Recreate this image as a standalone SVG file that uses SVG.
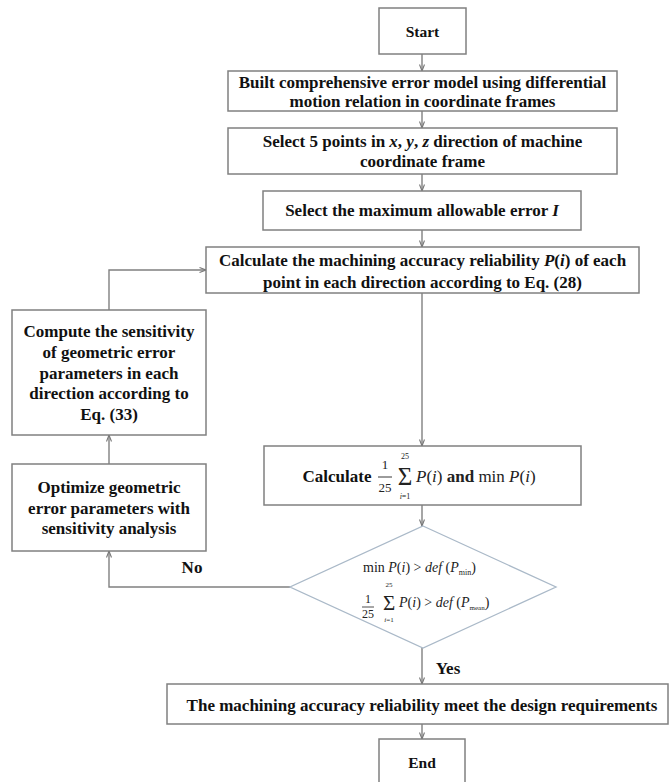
<svg xmlns="http://www.w3.org/2000/svg" width="669" height="782" viewBox="0 0 669 782">
<defs>
<style>
.box{fill:#fff;stroke:#808080;stroke-width:1.5}
.dia{fill:#fff;stroke:#aab9c8;stroke-width:1.3}
.t{font-family:"Liberation Serif","Times New Roman",serif;font-weight:bold;font-size:17px;fill:#111;text-anchor:middle}
.s{font-family:"Liberation Serif","Times New Roman",serif;font-weight:bold;font-size:15.5px;fill:#111;text-anchor:middle}
.m{font-family:"Liberation Serif","Times New Roman",serif;font-weight:normal;fill:#222}
.con{fill:none;stroke:#808080;stroke-width:1.4}
</style>
<marker id="ah" markerWidth="8" markerHeight="6" refX="7" refY="3" orient="auto" markerUnits="userSpaceOnUse">
<path d="M0.5,0.5 L7,3 L0.5,5.5" fill="none" stroke="#777" stroke-width="1.1"/>
</marker>
</defs>
<rect width="669" height="782" fill="#fff"/>

<g id="connectors">
<line class="con" x1="422" y1="54" x2="422" y2="71" marker-end="url(#ah)"/>
<line class="con" x1="422" y1="111" x2="422" y2="128" marker-end="url(#ah)"/>
<line class="con" x1="422" y1="174" x2="422" y2="191" marker-end="url(#ah)"/>
<line class="con" x1="422" y1="230" x2="422" y2="247" marker-end="url(#ah)"/>
<line class="con" x1="422" y1="293" x2="422" y2="446" marker-end="url(#ah)"/>
<line class="con" x1="422" y1="505" x2="422" y2="526" marker-end="url(#ah)"/>
<line class="con" x1="422" y1="648" x2="422" y2="684" marker-end="url(#ah)"/>
<line class="con" x1="422" y1="724" x2="422" y2="739" marker-end="url(#ah)"/>
<polyline class="con" points="290,587 109,587 109,551" marker-end="url(#ah)"/>
<line class="con" x1="109" y1="464" x2="109" y2="435" marker-end="url(#ah)"/>
<polyline class="con" points="109,310 109,270 206,270" marker-end="url(#ah)"/>
<text class="t" x="448" y="674">Yes</text>
<text class="t" x="192" y="573">No</text>
</g>

<g id="start">
<rect class="box" x="379" y="8" width="87" height="46"/>
<text class="s" x="422.5" y="37">Start</text>
</g>

<g id="build-model">
<rect class="box" x="228" y="71" width="389" height="40"/>
<text class="t" x="422.5" y="88">Built comprehensive error model using differential</text>
<text class="t" x="422.5" y="107">motion relation in coordinate frames</text>
</g>

<g id="select-points">
<rect class="box" x="228" y="128" width="389" height="46"/>
<text class="t" x="422.5" y="147">Select 5 points in <tspan font-style="italic">x</tspan>, <tspan font-style="italic">y</tspan>, <tspan font-style="italic">z</tspan> direction of machine</text>
<text class="t" x="422.5" y="167">coordinate frame</text>
</g>

<g id="select-error">
<rect class="box" x="263" y="191" width="318" height="39"/>
<text class="t" x="422" y="216">Select the maximum allowable error <tspan font-style="italic">I</tspan></text>
</g>

<g id="calc-reliability">
<rect class="box" x="206" y="247" width="433" height="46"/>
<text class="t" x="422.5" y="266">Calculate the machining accuracy reliability <tspan font-style="italic">P</tspan>(<tspan font-style="italic">i</tspan>) of each</text>
<text class="t" x="422.5" y="288">point in each direction according to Eq. (28)</text>
</g>

<g id="calc-mean-min">
<rect class="box" x="264" y="446" width="317" height="59"/>
<text class="t" x="337" y="482">Calculate</text>
<text class="m" x="385" y="469" font-size="13" text-anchor="middle">1</text>
<line x1="378" y1="477" x2="392" y2="477" stroke="#222" stroke-width="0.9"/>
<text class="m" x="385" y="492" font-size="13" text-anchor="middle">25</text>
<text class="m" x="405" y="459" font-size="8" text-anchor="middle">25</text>
<text class="m" x="405" y="485" font-size="25" text-anchor="middle">Σ</text>
<text class="m" x="405" y="499" font-size="8" text-anchor="middle"><tspan font-style="italic">i</tspan>=1</text>
<text class="m" x="416" y="482" font-size="17"><tspan font-style="italic">P</tspan>(<tspan font-style="italic">i</tspan>) <tspan font-weight="bold">and</tspan> min <tspan font-style="italic">P</tspan>(<tspan font-style="italic">i</tspan>)</text>
</g>

<g id="decision">
<polygon class="dia" points="423,526 556,587 423,648 290,587"/>
<text class="m" x="363" y="572" font-size="14">min <tspan font-style="italic">P</tspan>(<tspan font-style="italic">i</tspan>) &gt; <tspan font-style="italic">def</tspan> (<tspan font-style="italic">P</tspan><tspan font-size="8" dy="3">min</tspan><tspan dy="-3">)</tspan></text>
<text class="m" x="368" y="603" font-size="12" text-anchor="middle">1</text>
<line x1="362" y1="607" x2="374" y2="607" stroke="#222" stroke-width="0.8"/>
<text class="m" x="368" y="618" font-size="12" text-anchor="middle">25</text>
<text class="m" x="389" y="587" font-size="7" text-anchor="middle">25</text>
<text class="m" x="389" y="610" font-size="21" text-anchor="middle">Σ</text>
<text class="m" x="389" y="622" font-size="7" text-anchor="middle"><tspan font-style="italic">i</tspan>=1</text>
<text class="m" x="399" y="607" font-size="14"><tspan font-style="italic">P</tspan>(<tspan font-style="italic">i</tspan>) &gt; <tspan font-style="italic">def</tspan> (<tspan font-style="italic">P</tspan><tspan font-size="7" dy="3">mean</tspan><tspan dy="-3">)</tspan></text>
</g>

<g id="compute-sensitivity">
<rect class="box" x="12" y="310" width="194" height="125"/>
<text class="t" x="109" y="337">Compute the sensitivity</text>
<text class="t" x="109" y="358">of geometric error</text>
<text class="t" x="109" y="379">parameters in each</text>
<text class="t" x="109" y="399">direction according to</text>
<text class="t" x="109" y="420">Eq. (33)</text>
</g>

<g id="optimize">
<rect class="box" x="12" y="464" width="194" height="87"/>
<text class="t" x="109" y="493">Optimize geometric</text>
<text class="t" x="109" y="514">error parameters with</text>
<text class="t" x="109" y="534">sensitivity analysis</text>
</g>

<g id="meet-requirements">
<rect class="box" x="167" y="684" width="501" height="40"/>
<text class="t" x="422" y="711">The machining accuracy reliability meet the design requirements</text>
</g>

<g id="end">
<rect class="box" x="379" y="739" width="86" height="52"/>
<text class="s" x="422" y="768">End</text>
</g>
</svg>
